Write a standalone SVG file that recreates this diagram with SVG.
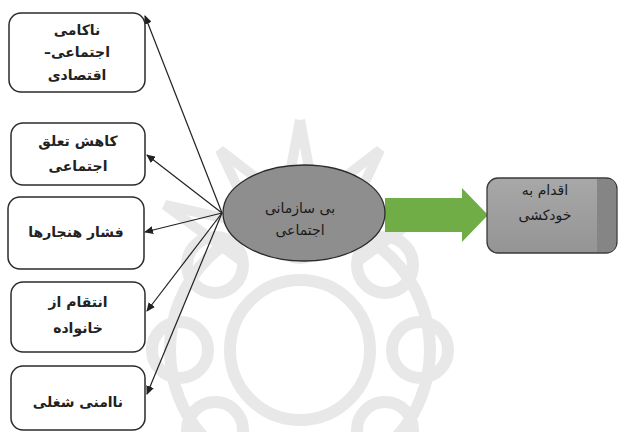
<svg xmlns="http://www.w3.org/2000/svg" width="619" height="432" viewBox="0 0 619 432">
<defs>
<style>
.box{fill:#fff;stroke:#2b2b2b;stroke-width:1.5}
.t{font-family:"DejaVu Sans","Noto Sans",sans-serif;font-size:14px;font-weight:bold;fill:#222;text-anchor:middle}
.te{font-family:"DejaVu Sans","Noto Sans",sans-serif;font-size:14px;fill:#1a1a1a;text-anchor:middle}
.c{stroke:#222;stroke-width:1.2;fill:none;marker-end:url(#ah)}
.wm{fill:none;stroke:#e8e8e8;stroke-width:12}
</style>
<marker id="ah" markerWidth="9" markerHeight="8" refX="8" refY="4" orient="auto" markerUnits="userSpaceOnUse">
<path d="M0,0 L9,4 L0,8 Z" fill="#222"/>
</marker>
<linearGradient id="rg" x1="0" y1="0" x2="0" y2="1">
<stop offset="0" stop-color="#a8a8a8"/>
<stop offset="1" stop-color="#949494"/>
</linearGradient>
</defs>
<rect width="619" height="432" fill="#fff"/>
<g id="watermark">
<circle class="wm" cx="300" cy="350" r="70"/>
<circle class="wm" cx="300" cy="350" r="130"/>
<circle class="wm" cx="300" cy="230" r="28"/>
<circle class="wm" cx="385" cy="265" r="28"/>
<circle class="wm" cx="420" cy="350" r="28"/>
<circle class="wm" cx="215" cy="265" r="28"/>
<circle class="wm" cx="180" cy="350" r="28"/>
<circle class="wm" cx="385" cy="430" r="28"/>
<circle class="wm" cx="215" cy="430" r="28"/>
<path d="M300,120 L315,200 L380,150 L345,225 L435,205 L360,260 M300,120 L285,200 L220,150 L255,225 L165,205 L240,260" fill="none" stroke="#e8e8e8" stroke-width="10"/>
</g>
<g id="connectors">
<line class="c" x1="222" y1="213" x2="145" y2="16"/>
<line class="c" x1="222" y1="213" x2="147" y2="155"/>
<line class="c" x1="222" y1="213" x2="145" y2="232"/>
<line class="c" x1="222" y1="213" x2="147" y2="311"/>
<line class="c" x1="222" y1="213" x2="147" y2="394"/>
<path d="M385,198 L462,198 L462,188 L488,215 L462,242 L462,232 L385,232 Z" fill="#70ad47"/>
</g>
<g id="n1">
<rect class="box" x="9" y="13" width="136" height="79" rx="12"/>
<text class="t" x="77" y="35" direction="rtl">ناکامی</text>
<text class="t" x="77" y="57" direction="rtl">اجتماعی–</text>
<text class="t" x="77" y="80" direction="rtl">اقتصادی</text>
</g>
<g id="n2">
<rect class="box" x="11" y="123" width="134" height="62" rx="12"/>
<text class="t" x="78" y="146" direction="rtl">کاهش تعلق</text>
<text class="t" x="78" y="171" direction="rtl">اجتماعی</text>
</g>
<g id="n3">
<rect class="box" x="8" y="197" width="136" height="72" rx="12"/>
<text class="t" x="76" y="237" direction="rtl">فشار هنجارها</text>
</g>
<g id="n4">
<rect class="box" x="11" y="282" width="134" height="70" rx="12"/>
<text class="t" x="78" y="307" direction="rtl">انتقام از</text>
<text class="t" x="78" y="333" direction="rtl">خانواده</text>
</g>
<g id="n5">
<rect class="box" x="11" y="366" width="134" height="64" rx="12"/>
<text class="t" x="78" y="407" direction="rtl">ناامنی شغلی</text>
</g>
<g id="center">
<ellipse cx="304" cy="213" rx="81" ry="48" fill="#8e8e8e" stroke="#2b2b2b" stroke-width="1.3"/>
<text class="te" x="300" y="213" direction="rtl">بی سازمانی</text>
<text class="te" x="300" y="235" direction="rtl">اجتماعی</text>
</g>
<g id="suicide">
<rect x="487" y="178" width="130" height="75" rx="11" fill="url(#rg)" stroke="#3a3a3a" stroke-width="1.3"/>
<path d="M597,179 L607,179 Q616,179 616,188 L616,243 Q616,252 607,252 L597,252 Z" fill="#858585"/>
<text class="te" x="545" y="195" direction="rtl">اقدام به</text>
<text class="te" x="545" y="220" direction="rtl">خودکشی</text>
</g>
</svg>
